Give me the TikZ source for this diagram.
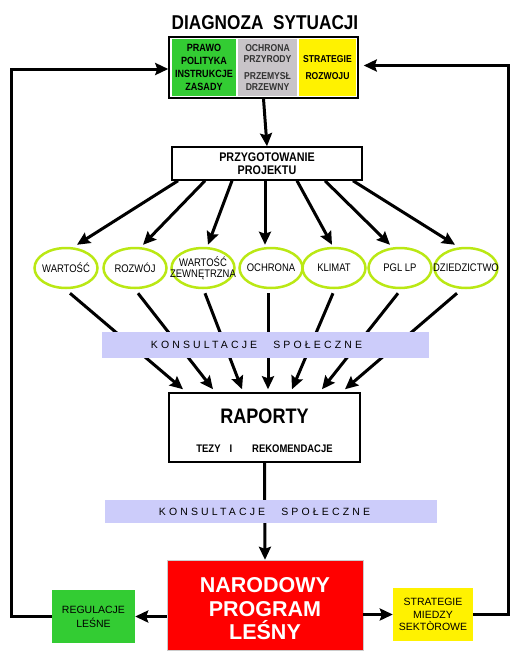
\documentclass[tikz,border=0pt]{standalone}
\usepackage{fontspec}
\setmainfont{Liberation Sans}
\newfontfamily\narrowfont[FakeStretch=0.86]{Liberation Sans}
\newfontfamily\spacedfont[LetterSpace=30]{Liberation Sans}
\usetikzlibrary{shapes.geometric,arrows.meta}
\definecolor{cellgreen}{RGB}{51,204,51}
\definecolor{cellgrey}{RGB}{200,196,200}
\definecolor{goalrim}{RGB}{186,232,20}
\definecolor{bandblue}{RGB}{204,204,250}
\newcommand{\nw}[1]{\makebox[0pt]{#1}}

\begin{document}
\begin{tikzpicture}[x=1pt,y=-1pt,
  arr/.style={-{Stealth[length=13pt,width=12pt,inset=2pt]},line width=3pt},
  box/.style={draw,line width=1.5pt,inner sep=0pt,align=center},
  cell/.style={inner sep=0pt,minimum height=57pt,align=center,font=\narrowfont\bfseries\fontsize{10}{11}\selectfont},
  goal/.style={ellipse,draw=goalrim,line width=2.5pt,minimum width=63pt,minimum height=40pt,inner sep=0pt,align=center,font=\narrowfont\fontsize{11}{11.5}\selectfont},
  band/.style={fill=bandblue,inner sep=0pt,font=\spacedfont\fontsize{10.5}{12}\selectfont}]
    \useasboundingbox (0,0) rectangle (511,657);
    % diagnoza
    \node (title) at (265,22.5) {\narrowfont\bfseries\fontsize{20}{20}\selectfont DIAGNOZA\hspace{5pt} SYTUACJI};
    \node[box,minimum width=189pt,minimum height=61pt] (diag) at (263.5,67.5) {};
    \node[cell,fill=cellgreen,minimum width=64pt,font=\narrowfont\bfseries\fontsize{10.5}{13}\selectfont] (prawo) at (204,67.5) {PRAWO\\POLITYKA\\INSTRUKCJE\\ZASADY};
    \node[cell,fill=cellgrey,minimum width=59pt,text=black!80] (przyr) at (267.5,67.5) {OCHRONA\\PRZYRODY\\[6pt]PRZEMYSŁ\\DRZEWNY};
    \node[cell,fill=yellow,minimum width=57pt] (rozwoju) at (327.5,67.5) {STRATEGIE\\[6pt]ROZWOJU};
    \node[box,minimum width=190pt,minimum height=33pt,font=\narrowfont\bfseries\fontsize{12.5}{12.5}\selectfont] (przyg) at (267,163.5) {PRZYGOTOWANIE\\PROJEKTU};
    % cele
    \node[goal] (wart) at (66,268) {\nw{WARTOŚĆ}};
    \node[goal] (rozw) at (135,268) {\nw{ROZWÓJ}};
    \node[goal] (zewn) at (203,268) {\nw{WARTOŚĆ}\\\nw{ZEWNĘTRZNA}};
    \node[goal] (ochr) at (271,268) {\nw{OCHRONA}};
    \node[goal] (klim) at (334,268) {\nw{KLIMAT}};
    \node[goal] (pgl) at (400,268) {\nw{PGL LP}};
    \node[goal] (dzie) at (466,268) {\nw{DZIEDZICTWO}};
    % raporty i program
    \node[box,minimum width=191pt,minimum height=69pt,font=\narrowfont\bfseries\fontsize{11}{29}\selectfont] (rap) at (264.5,427.5) {\rule{0pt}{21pt}{\fontsize{21}{21}\selectfont RAPORTY}\\TEZY\hspace{9pt}I\hspace{20pt}REKOMENDACJE};
    \node[fill=red,draw=gray!40,inner sep=0pt,minimum width=196pt,minimum height=90pt,align=center,text=white,font=\bfseries\fontsize{21.5}{23.5}\selectfont] (nar) at (265,605) {\rule{0pt}{23pt}NARODOWY\\PROGRAM\\LEŚNY};
    \node[fill=cellgreen,inner sep=0pt,minimum width=83pt,minimum height=53pt,align=center,font=\fontsize{10.5}{14}\selectfont] (reg) at (93.5,616.5) {REGULACJE\\LEŚNE};
    \node[fill=yellow,inner sep=0pt,minimum width=80pt,minimum height=53pt,align=center,font=\fontsize{10.5}{12.5}\selectfont] (strat) at (433,614.5) {STRATEGIE\\MIEDZY\\SEKTÒROWE};
    % connect the nodes
    \draw[arr] (diag.south) -- (przyg.north);
    \foreach \g/\s/\e in {wart/-89/11, rozw/-62/8, zewn/-35/5, ochr/-2/-6, klim/30/-2, pgl/58/-10, dzie/86/-11}
        \draw[arr] ([xshift=\s pt]przyg.south) -- ([xshift=\e pt,yshift=2pt]\g.north);
    \foreach \g/\s/\e in {wart/4/-81.5, rozw/3/-51.5, zewn/2/-22.5, ochr/-3/3.5, klim/-1/27.5, pgl/-2/57.5, dzie/-9/80.5}
        \draw[arr] ([xshift=\s pt,yshift=-4pt]\g.south) -- ([xshift=\e pt,yshift=3pt]rap.north);
    \draw[arr] (rap.south) -- (nar.north);
    \draw[arr] (nar.west |- reg) -- (reg.east);
    \draw[arr] (nar.east |- strat) -- (strat.west);
    \draw[arr] (reg.west) -- ++(-40,0) |- ([yshift=-1.5pt]diag.west);
    \draw[arr,shorten >=5pt] (strat.east) -- ++(35,0) |- ([yshift=2pt]diag.east);
    % konsultacje
    \node[band,minimum width=327pt,minimum height=26pt] (kons1) at (265.5,345) {\hspace*{-18pt}KONSULTACJE\hspace{10pt} SPOŁECZNE};
    \node[band,minimum width=332pt,minimum height=23pt] (kons2) at (271,511.5) {\hspace*{-13pt}KONSULTACJE\hspace{10pt} SPOŁECZNE};
\end{tikzpicture}
\end{document}
